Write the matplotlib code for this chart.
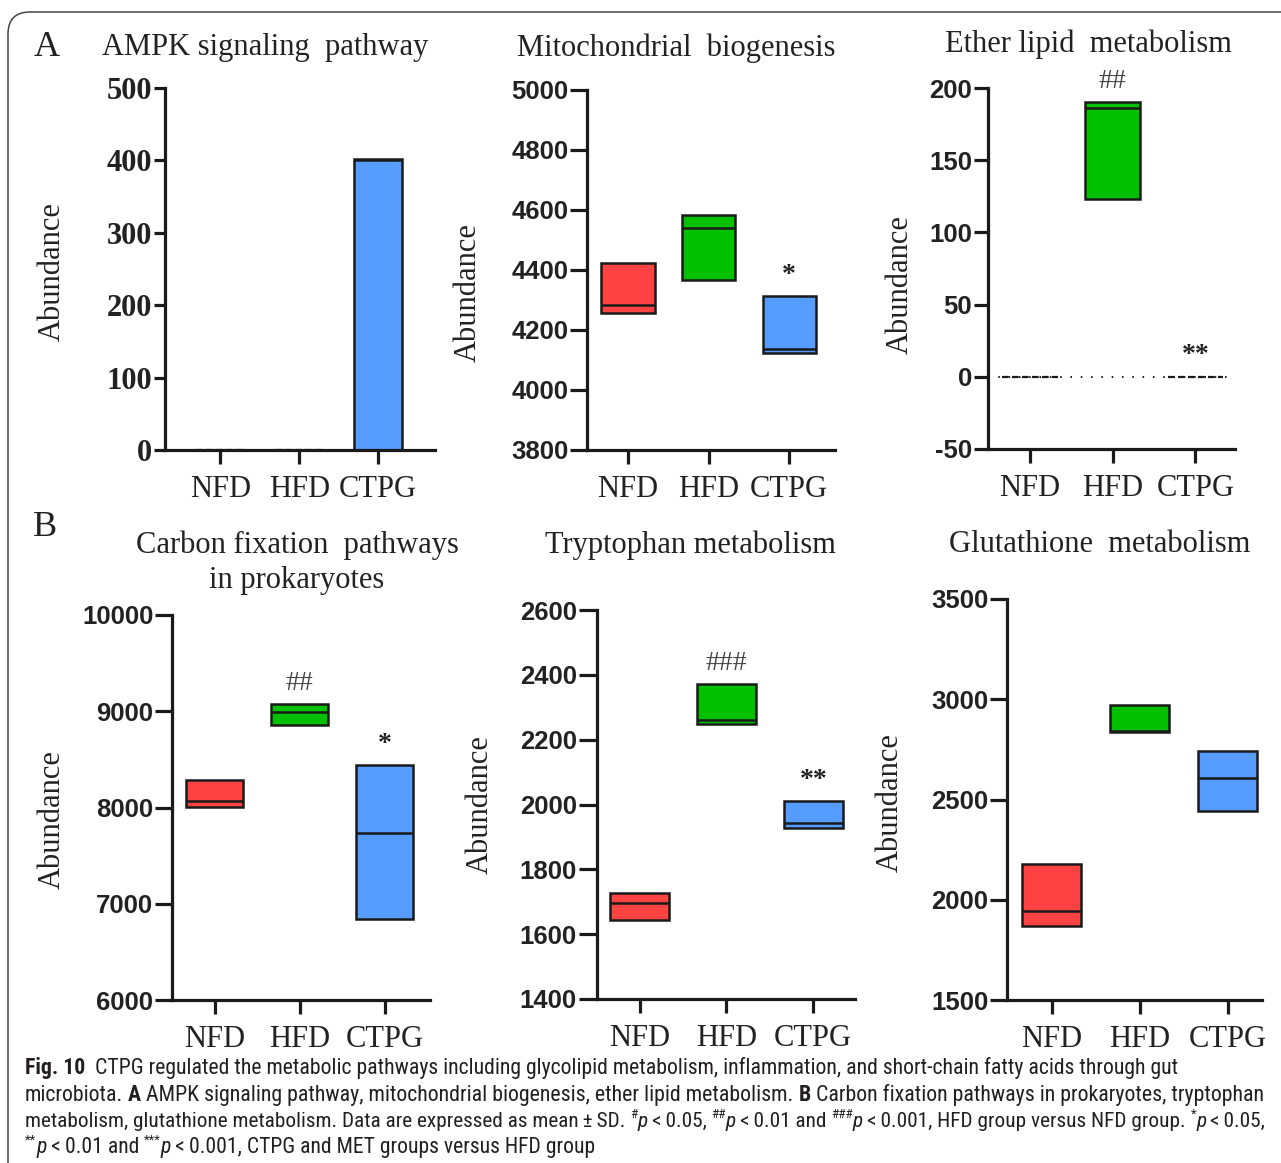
import matplotlib
matplotlib.use("Agg")
import matplotlib.pyplot as plt
from matplotlib import font_manager
from matplotlib.patches import FancyBboxPatch, Rectangle
from matplotlib.transforms import IdentityTransform

W, H, DPI = 1281, 1163, 100

# ---------------- data ----------------
groups = ["NFD", "HFD", "CTPG"]

ampk_low = [0, 0, 0]
ampk_med = [0, 0, 400]
ampk_high = [0, 0, 402]
ampk_ticks = [0, 100, 200, 300, 400, 500]
ampk_marks = ["", "", ""]

mito_low = [4256, 4367, 4122]
mito_med = [4284, 4540, 4137]
mito_high = [4422, 4584, 4312]
mito_ticks = [3800, 4000, 4200, 4400, 4600, 4800, 5000]
mito_marks = ["", "", "*"]

ether_low = [0, 123, 0]
ether_med = [0, 186, 0]
ether_high = [0, 190, 0]
ether_ticks = [-50, 0, 50, 100, 150, 200]
ether_marks = ["", "##", "**"]

carbon_low = [8005, 8855, 6844]
carbon_med = [8069, 8993, 7734]
carbon_high = [8287, 9073, 8438]
carbon_ticks = [6000, 7000, 8000, 9000, 10000]
carbon_marks = ["", "##", "*"]

trp_low = [1644, 2248, 1926]
trp_med = [1695, 2262, 1944]
trp_high = [1728, 2372, 2011]
trp_ticks = [1400, 1600, 1800, 2000, 2200, 2400, 2600]
trp_marks = ["", "###", "**"]

glu_low = [1867, 2838, 2442]
glu_med = [1942, 2840, 2605]
glu_high = [2180, 2973, 2741]
glu_ticks = [1500, 2000, 2500, 3000, 3500]
glu_marks = ["", "", ""]

titles = ["AMPK signaling  pathway", "Mitochondrial  biogenesis", "Ether lipid  metabolism",
          "Carbon fixation  pathways\nin prokaryotes", "Tryptophan metabolism", "Glutathione  metabolism"]

# ---------------- style ----------------
colors = ["#FF4343", "#00C000", "#569CFF"]
SERIF = "Liberation Serif"
SANS = "Liberation Sans"
INK = "#1a1a1a"

fig = plt.figure(figsize=(W / DPI, H / DPI), dpi=DPI)
fig.patch.set_facecolor("white")
renderer = fig.canvas.get_renderer()


def fx(x):
    return x / W


def fy(y):
    return 1 - y / H


def ft(x, y, s, **kw):
    return fig.text(fx(x), fy(y), s, **kw)


line1 = [("Fig. 10  ", "b"),
         ("CTPG regulated the metabolic pathways including glycolipid metabolism, inflammation, and short-chain fatty acids through gut", "n")]
line2 = [("microbiota. ", "n"), ("A ", "b"),
         ("AMPK signaling pathway, mitochondrial biogenesis, ether lipid metabolism. ", "n"),
         ("B ", "b"), ("Carbon fixation pathways in prokaryotes, tryptophan", "n")]
line3 = [("metabolism, glutathione metabolism. Data are expressed as mean\u2009\u00b1\u2009SD. ", "n"),
         ("#", "sup"), ("p", "i"), ("\u2009<\u20090.05, ", "n"),
         ("##", "sup"), ("p", "i"), ("\u2009<\u20090.01 and ", "n"),
         ("###", "sup"), ("p", "i"), ("\u2009<\u20090.001, HFD group versus NFD group. ", "n"),
         ("*", "sup"), ("p", "i"), ("\u2009<\u20090.05,", "n")]
line4 = [("**", "sup"), ("p", "i"), ("\u2009<\u20090.01 and ", "n"),
         ("***", "sup"), ("p", "i"), ("\u2009<\u20090.001, CTPG and MET groups versus HFD group", "n")]

# ---- pick a plain condensed sans face (whitelisted families) ----
COND = ("condensed", "semi-condensed", "extra-condensed", "ultra-condensed")
OK_NAMES = {"Liberation Sans Narrow", "Roboto Condensed", "Noto Sans", "Noto Sans Condensed",
            "Noto Sans SemiCondensed", "Open Sans", "Open Sans SemiCondensed", "Roboto",
            "DejaVu Sans"}
cands = [("DejaVu Sans", "condensed")]
for f in font_manager.fontManager.ttflist:
    if f.name not in OK_NAMES:
        continue
    wt = f.weight if isinstance(f.weight, int) else font_manager.weight_dict.get(f.weight, 400)
    if wt != 400 or f.style != "normal":
        continue
    if f.stretch in COND or "Narrow" in f.name or "Condensed" in f.name:
        key = (f.name, f.stretch if f.stretch in COND else "normal")
        if key not in cands:
            cands.append(key)
sample = line1[1][0]
best, best_score = cands[0], None
for fam, st in cands:
    try:
        t = fig.text(0, 0, sample, family=fam, stretch=st, fontsize=14)
        w = t.get_window_extent(renderer).width
        t.remove()
    except Exception:
        continue
    fitted = 14 * 1060 / w
    score = abs(fitted - 14.5)
    if best_score is None or score < best_score:
        best, best_score = (fam, st), score
CAP_FAMILY, CAP_STRETCH = best
CAP_FAMILIES = [CAP_FAMILY, "DejaVu Sans"]

# layout: (left, top, right, bottom) in px, xlim, box width, tick font, title pos, ylabel pos
panels = [
    dict(low=ampk_low, med=ampk_med, high=ampk_high, ticks=ampk_ticks, marks=ampk_marks,
         box=(165, 88, 435, 450), xlim=(-0.70, 2.72), bw=0.61, tfont=SERIF, tsize=22, tlen=8,
         title=(265, 48), ylab=(52, 272)),
    dict(low=mito_low, med=mito_med, high=mito_high, ticks=mito_ticks, marks=mito_marks,
         box=(587, 90, 835, 450), xlim=(-0.51, 2.57), bw=0.66, tfont=SANS, tsize=18.5, tlen=12,
         title=(676, 48), ylab=(468, 293)),
    dict(low=ether_low, med=ether_med, high=ether_high, ticks=ether_ticks, marks=ether_marks,
         box=(988, 88, 1235, 449), xlim=(-0.51, 2.48), bw=0.67, tfont=SANS, tsize=18.5, tlen=10,
         title=(1088, 44), ylab=(900, 285)),
    dict(low=carbon_low, med=carbon_med, high=carbon_high, ticks=carbon_ticks, marks=carbon_marks,
         box=(172, 615, 430, 1000), xlim=(-0.50, 2.53), bw=0.67, tfont=SANS, tsize=18.5, tlen=12,
         title=(297, 563), ylab=(52, 820)),
    dict(low=trp_low, med=trp_med, high=trp_high, ticks=trp_ticks, marks=trp_marks,
         box=(597, 610, 855, 999), xlim=(-0.49, 2.48), bw=0.68, tfont=SANS, tsize=18.5, tlen=13,
         title=(690, 545), ylab=(480, 805)),
    dict(low=glu_low, med=glu_med, high=glu_high, ticks=glu_ticks, marks=glu_marks,
         box=(1007, 599, 1262, 1000), xlim=(-0.51, 2.39), bw=0.67, tfont=SANS, tsize=18.5, tlen=12,
         title=(1100, 545), ylab=(890, 803)),
]

for idx, (p, title) in enumerate(zip(panels, titles)):
    L, T, R, B = p["box"]
    ax = fig.add_axes([fx(L), fy(B), (R - L) / W, (B - T) / H])
    ax.set_facecolor("none")
    ax.set_xlim(*p["xlim"])
    ax.set_ylim(p["ticks"][0], p["ticks"][-1])
    for s in ("top", "right"):
        ax.spines[s].set_visible(False)
    for s in ("left", "bottom"):
        ax.spines[s].set_linewidth(2.3)
        ax.spines[s].set_color(INK)
    ax.tick_params(axis="both", width=2.3, color=INK, direction="out")
    ax.tick_params(axis="y", length=p["tlen"], pad=1.5)
    ax.tick_params(axis="x", length=10, pad=8)
    ax.set_xticks(range(len(groups)))
    ax.set_xticklabels(groups, fontfamily=SERIF, fontsize=22, color="#222")
    ax.set_yticks(p["ticks"])
    ax.set_yticklabels([str(t) for t in p["ticks"]], fontfamily=p["tfont"], fontsize=p["tsize"],
                       fontweight="bold", color="#222")
    bw = p["bw"]
    if idx == 2:
        # GraphPad-style dotted zero line across the ether-lipid panel
        ax.axhline(0, color=INK, lw=1.4, linestyle=(0, (0.8, 4.5)), zorder=1)
    for i in range(len(groups)):
        lo, me, hi = p["low"][i], p["med"][i], p["high"][i]
        if hi == lo:
            ax.plot([i - bw / 2, i + bw / 2], [lo, lo], color=INK, lw=1.6,
                    linestyle=(0, (3, 1.5)), zorder=2)
        else:
            ax.add_patch(Rectangle((i - bw / 2, lo), bw, hi - lo, facecolor=colors[i],
                                   edgecolor=INK, lw=1.8, zorder=2))
            ax.plot([i - bw / 2, i + bw / 2], [me, me], color=INK, lw=1.8, zorder=3,
                    solid_capstyle="butt")
        m = p["marks"][i]
        if m:
            star = m.startswith("*")
            ax.annotate(m, xy=(i, hi), xytext=(0, 15), textcoords="offset points",
                        ha="center", va="center", fontsize=20, fontfamily=SERIF,
                        fontweight="bold" if star else "normal",
                        color="#222" if star else "#444")
    tx, ty = p["title"]
    ft(tx, ty, title, ha="center", va="center", fontsize=22, family=SERIF, color="#222",
       linespacing=1.25)
    lx, ly = p["ylab"]
    ft(lx, ly, "Abundance", ha="center", va="center", rotation=90, fontsize=22, family=SERIF,
       color="#222")

ft(47, 47, "A", ha="center", va="center", fontsize=26, family=SERIF, color="#222")
ft(45, 528, "B", ha="center", va="center", fontsize=26, family=SERIF, color="#222")

# border
border = FancyBboxPatch((8, -60), 1400, H - 12 + 60, boxstyle="round,pad=0,rounding_size=22",
                        transform=IdentityTransform(), facecolor="none", edgecolor="#444",
                        lw=1.1)
fig.add_artist(border)

# ---------------- caption ----------------
CAP_COLOR = "#231F20"


def space_w(sz):
    a = fig.text(0, 0, "a a", family=CAP_FAMILIES, stretch=CAP_STRETCH, fontsize=sz)
    b = fig.text(0, 0, "aa", family=CAP_FAMILIES, stretch=CAP_STRETCH, fontsize=sz)
    w = a.get_window_extent(renderer).width - b.get_window_extent(renderer).width
    a.remove(); b.remove()
    return w


def build_line(segs, x0, ybase, sz):
    arts = []
    x = x0
    sw = space_w(sz)
    for s, kind in segs:
        kw = dict(family=CAP_FAMILIES, stretch=CAP_STRETCH, fontsize=sz, color=CAP_COLOR)
        dy = 0
        if kind == "b":
            kw["weight"] = "bold"
        elif kind == "i":
            kw["style"] = "italic"
        elif kind == "sup":
            kw["fontsize"] = sz * 0.62
            dy = sz * 0.42 * DPI / 72
        core = s.rstrip(" ")
        t = fig.text(fx(x), fy(ybase - dy), core, ha="left", va="baseline", **kw)
        w = t.get_window_extent(renderer).width
        x += w + (len(s) - len(core)) * sw
        arts.append(t)
    return arts, x


def fit_line(segs, x0, ybase, target, sz0=14.0):
    arts, xe = build_line(segs, x0, ybase, sz0)
    for a in arts:
        a.remove()
    sz = min(sz0 * (target - x0) / (xe - x0), 16.0)
    build_line(segs, x0, ybase, sz)
    return sz


s1 = fit_line(line1, 25, 1074, 1187)
s2 = fit_line(line2, 25, 1101, 1270)
s3 = fit_line(line3, 25, 1127, 1275)
build_line(line4, 25, 1153, (s1 + s2 + s3) / 3)

fig.savefig("out.png", dpi=DPI, facecolor="white")
